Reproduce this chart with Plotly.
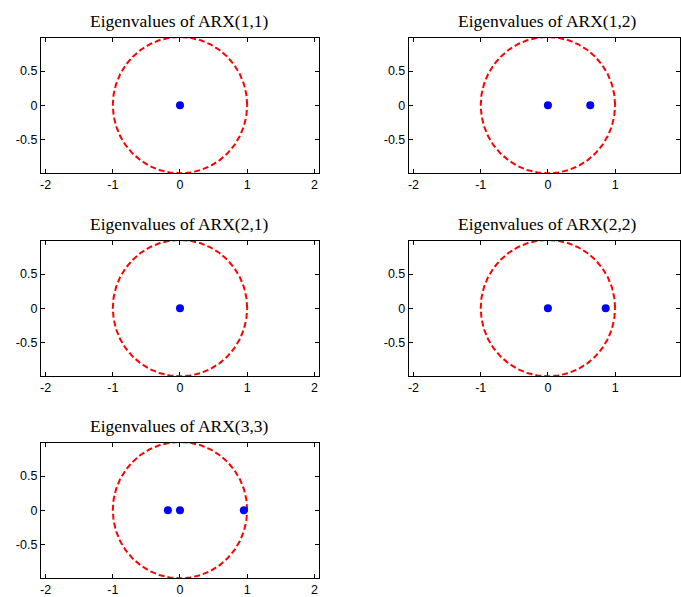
import numpy as np
import plotly.graph_objects as go

titles = ["Eigenvalues of ARX(1,1)", "Eigenvalues of ARX(1,2)", "Eigenvalues of ARX(2,1)",
          "Eigenvalues of ARX(2,2)", "Eigenvalues of ARX(3,3)"]
eig_re = [[0.0], [0.0, 0.63], [0.0], [0.0, 0.86], [-0.18, 0.0, 0.95]]
eig_im = [[0.0], [0.0, 0.0], [0.0], [0.0, 0.0], [0.0, 0.0, 0.0]]
x_ticks = [-2, -1, 0, 1, 2]
y_ticks = [-0.5, 0, 0.5]
y_tick_text = ["-0.5", "0", "0.5"]

W, H = 681, 597
px_per_unit = 67.4
left_cols = [(40, 319), (409, 681)]
rows = [(38, 173), (241, 376), (443, 578)]

theta = np.linspace(0, 2 * np.pi, 41)
cx, cy = np.cos(theta), np.sin(theta)

fig = go.Figure()
layout = {}
for i, t in enumerate(titles):
    r, c = divmod(i, 2)
    x0, x1 = left_cols[c]
    y0, y1 = rows[r]
    n = "" if i == 0 else str(i + 1)
    xa, ya = "x" + n, "y" + n
    fig.add_trace(go.Scatter(x=cx, y=cy, mode="lines", xaxis=xa, yaxis=ya,
                             line=dict(color="#ff0000", width=2, dash="6px,3px"),
                             hoverinfo="skip", showlegend=False))
    fig.add_trace(go.Scatter(x=eig_re[i], y=eig_im[i], mode="markers", xaxis=xa, yaxis=ya,
                             marker=dict(color="#0000ff", size=8), showlegend=False))
    xmin = -2.07
    xmax = xmin + (x1 - x0) / px_per_unit
    common = dict(showline=True, linecolor="black", linewidth=1, mirror="ticks",
                  ticks="inside", ticklen=4, tickcolor="black", showgrid=False,
                  zeroline=False, tickfont=dict(family="Liberation Sans, Arial", size=12.5, color="black"))
    layout["xaxis" + n] = dict(domain=[x0 / W, x1 / W], range=[xmin, xmax], anchor=ya,
                               tickvals=x_ticks, ticktext=[str(v) for v in x_ticks], **common)
    layout["yaxis" + n] = dict(domain=[1 - y1 / H, 1 - y0 / H], range=[-0.995, 0.985], anchor=xa,
                               tickvals=y_ticks, ticktext=y_tick_text, **common)
    fig.add_annotation(text=t, x=(179 if c == 0 else 548) / W,
                       y=1 - (y0 - 5) / H, xref="paper", yref="paper", showarrow=False,
                       xanchor="center", yanchor="bottom",
                       font=dict(family="Liberation Serif, Times New Roman", size=17.5, color="black"))

fig.update_layout(width=W, height=H, margin=dict(l=0, r=0, t=0, b=0),
                  paper_bgcolor="white", plot_bgcolor="white", **layout)
fig.write_html("out.html")
